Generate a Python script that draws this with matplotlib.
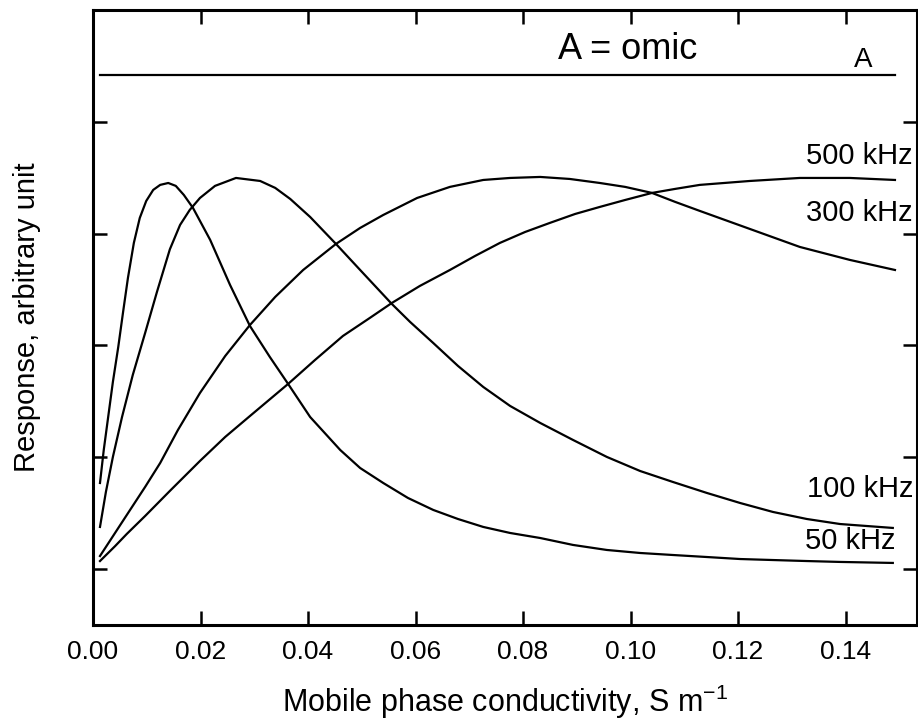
import matplotlib
matplotlib.use("Agg")
import matplotlib.pyplot as plt

plt.rcParams['font.family'] = ['Liberation Sans', 'DejaVu Sans']

# curves (x in S/m, y in arbitrary units)
x_50 = [0.0013, 0.0020, 0.0028, 0.0037, 0.0047, 0.0056, 0.0065, 0.0076, 0.0087,
        0.0099, 0.0112, 0.0125, 0.0140, 0.0154, 0.0169, 0.0186, 0.0218, 0.0255,
        0.0292, 0.0329, 0.0363, 0.0404, 0.0460, 0.0497, 0.0540, 0.0586, 0.0633,
        0.0679, 0.0726, 0.0776, 0.0832, 0.0893, 0.0956, 0.1018, 0.1079, 0.1142,
        0.1204, 0.1265, 0.1328, 0.1390, 0.1488]
y_50 = [1.270, 1.565, 1.852, 2.174, 2.487, 2.800, 3.104, 3.417, 3.640,
        3.792, 3.891, 3.936, 3.953, 3.927, 3.846, 3.730, 3.444, 3.041,
        2.674, 2.397, 2.156, 1.860, 1.565, 1.404, 1.270, 1.136, 1.029,
        0.948, 0.877, 0.823, 0.778, 0.716, 0.671, 0.644, 0.626, 0.608,
        0.590, 0.581, 0.572, 0.564, 0.555]

x_100 = [0.0013, 0.0024, 0.0037, 0.0054, 0.0074, 0.0097, 0.0119, 0.0143, 0.0162,
         0.0180, 0.0199, 0.0227, 0.0266, 0.0311, 0.0339, 0.0367, 0.0404, 0.0452,
         0.0497, 0.0556, 0.0590, 0.0633, 0.0679, 0.0726, 0.0776, 0.0832, 0.0893,
         0.0956, 0.1018, 0.1079, 0.1142, 0.1204, 0.1265, 0.1328, 0.1390, 0.1488]
y_100 = [0.877, 1.190, 1.503, 1.860, 2.236, 2.612, 2.979, 3.360, 3.578,
         3.712, 3.819, 3.927, 3.998, 3.971, 3.909, 3.810, 3.649, 3.408,
         3.175, 2.871, 2.710, 2.522, 2.317, 2.129, 1.959, 1.807, 1.655,
         1.503, 1.377, 1.279, 1.181, 1.091, 1.011, 0.948, 0.903, 0.868]

x_300 = [0.0013, 0.0041, 0.0063, 0.0097, 0.0125, 0.0158, 0.0199, 0.0246, 0.0292,
         0.0339, 0.0391, 0.0452, 0.0497, 0.0540, 0.0603, 0.0664, 0.0726, 0.0776,
         0.0832, 0.0887, 0.0943, 0.0990, 0.1040, 0.1083, 0.1129, 0.1222, 0.1315,
         0.1408, 0.1492]
y_300 = [0.617, 0.823, 0.985, 1.235, 1.449, 1.744, 2.075, 2.406, 2.683,
         2.934, 3.175, 3.408, 3.551, 3.667, 3.819, 3.918, 3.980, 3.998,
         4.007, 3.989, 3.953, 3.918, 3.864, 3.784, 3.703, 3.542, 3.381,
         3.265, 3.175]

x_500 = [0.0013, 0.0041, 0.0063, 0.0097, 0.0143, 0.0199, 0.0246, 0.0292, 0.0363,
         0.0413, 0.0465, 0.0515, 0.0556, 0.0608, 0.0664, 0.0711, 0.0757, 0.0804,
         0.0850, 0.0897, 0.0943, 0.0990, 0.1040, 0.1083, 0.1129, 0.1222, 0.1315,
         0.1408, 0.1492]
y_500 = [0.572, 0.705, 0.815, 0.975, 1.199, 1.467, 1.682, 1.869, 2.156,
         2.370, 2.585, 2.746, 2.880, 3.032, 3.175, 3.301, 3.417, 3.515,
         3.596, 3.676, 3.739, 3.801, 3.864, 3.900, 3.936, 3.971, 3.998,
         3.998, 3.980]

x_omic = [0.0013, 0.1492]
y_omic = [4.92, 4.92]

x_ticks = [0.00, 0.02, 0.04, 0.06, 0.08, 0.10, 0.12, 0.14]
y_ticks = [0.5, 1.5, 2.5, 3.5, 4.5]

fig = plt.figure(figsize=(9.18, 7.2), dpi=100)
ax = fig.add_axes([93/918, 95/720, 824/918, 615/720])

for xs, ys in [(x_50, y_50), (x_100, y_100), (x_300, y_300), (x_500, y_500), (x_omic, y_omic)]:
    ax.plot(xs, ys, color='black', lw=1.6)

ax.set_xlim(0, 0.1533)
ax.set_ylim(0, 5.5)
ax.set_xticks(x_ticks)
ax.set_xticklabels(['%.2f' % t for t in x_ticks])
ax.set_yticks(y_ticks)
ax.set_yticklabels([])
ax.tick_params(direction='in', length=10, width=1.8, top=True, right=True,
               labelsize=19, pad=11)
for s in ax.spines.values():
    s.set_linewidth(2.2)

ax.text(0.1524, 4.19, '500 kHz', ha='right', va='center', fontsize=21)
ax.text(0.1524, 3.685, '300 kHz', ha='right', va='center', fontsize=21)
ax.text(0.1526, 1.22, '100 kHz', ha='right', va='center', fontsize=21)
ax.text(0.1493, 0.75, '50 kHz', ha='right', va='center', fontsize=21)
ax.text(0.1433, 5.05, 'A', ha='center', va='center', fontsize=20)
ax.text(0.0994, 5.15, 'A = omic', ha='center', va='center', fontsize=26)

ax.set_xlabel(r'Mobile phase conductivity, S m$^{\mathregular{-1}}$', fontsize=22, labelpad=13)
ax.set_ylabel('Response, arbitrary unit', fontsize=21)
ax.yaxis.set_label_coords(-0.063, 0.5)

fig.savefig('out.png', dpi=100)
